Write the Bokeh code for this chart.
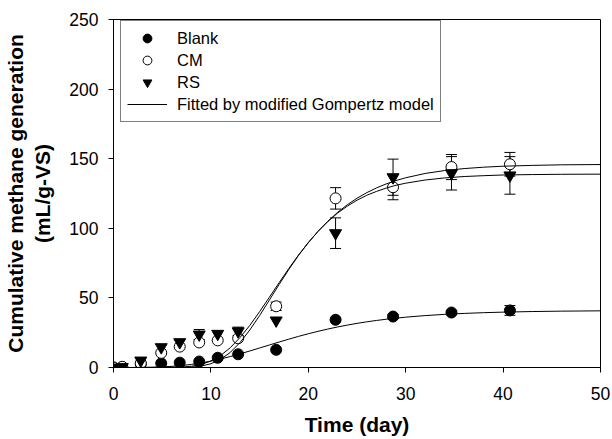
from bokeh.plotting import figure
from bokeh.models import Range1d, Legend, LegendItem, Whisker, ColumnDataSource, TeeHead, FixedTicker
from bokeh.embed import file_html
from bokeh.resources import INLINE

# ---- data ----
days = [0, 0.9, 2.8, 4.9, 6.8, 8.8, 10.7, 12.8, 16.7, 22.8, 28.7, 34.7, 40.7]
blank = [0, 0.3, 2.5, 3.0, 3.5, 4.3, 7.0, 9.5, 12.7, 34.3, 36.6, 39.5, 41.0]
blank_err = [0, 0, 0, 0, 0, 0, 0, 0, 0, 1.0, 1.5, 1.5, 3.5]
cm = [0, 0.5, 3.0, 10.5, 15.0, 18.0, 19.5, 21.0, 44.0, 121.5, 129.5, 144.0, 146.0]
cm_err = [0, 0, 0, 0, 0, 0, 0, 0, 3.0, 7.7, 9.0, 9.0, 8.5]
rs = [0, 0.3, 5.0, 14.6, 18.2, 23.7, 24.2, 26.0, 33.8, 96.5, 136.7, 139.5, 138.0]
rs_err = [0, 0, 0, 0, 0, 3.6, 0, 3.0, 0, 11.0, 13.0, 12.0, 13.5]

fit_t = [0, 2, 4, 5, 6, 7, 8, 9, 10, 11, 12, 13, 14, 15, 16, 17, 18, 19, 20,
         21, 22, 23, 24, 25, 26, 27, 28, 29, 30, 32, 34, 36, 38, 40, 43, 46, 50]
fit_blank = [0.0, 0.04, 0.23, 0.46, 0.84, 1.41, 2.21, 3.26, 4.57, 6.12, 7.88, 9.82,
             11.88, 14.01, 16.16, 18.29, 20.36, 22.36, 24.24, 25.99, 27.62, 29.11,
             30.46, 31.70, 32.80, 33.79, 34.67, 35.45, 36.15, 37.29, 38.18, 38.86,
             39.38, 39.78, 40.2, 40.48, 40.71]
fit_cm = [0.0, 0.0, 0.0, 0.02, 0.08, 0.3, 0.9, 2.2, 4.7, 8.6, 14.3, 21.6, 30.3, 40.1,
          50.4, 60.9, 71.1, 80.8, 89.7, 97.8, 105.0, 111.4, 116.9, 121.6, 125.6,
          129.0, 131.9, 134.3, 136.3, 139.4, 141.5, 142.9, 143.9, 144.6, 145.2,
          145.6, 145.8]
fit_rs = [0.0, 0.0, 0.0, 0.0, 0.01, 0.07, 0.3, 1.0, 2.7, 5.8, 10.9, 18.0, 27.0, 37.3,
          48.4, 59.6, 70.4, 80.6, 89.7, 97.8, 104.8, 110.9, 115.9, 120.2, 123.7,
          126.5, 128.9, 130.9, 132.4, 134.7, 136.2, 137.2, 137.8, 138.3, 138.6,
          138.8, 138.9]

x_ticks = [0, 10, 20, 30, 40, 50]
y_ticks = [0, 50, 100, 150, 200, 250]

FONT = "Liberation Sans"

p = figure(width=612, height=439, output_backend="svg", toolbar_location=None,
           x_range=Range1d(0, 50), y_range=Range1d(0, 250),
           min_border_left=113, min_border_right=12, min_border_top=19,
           min_border_bottom=72)
p.background_fill_color = "white"
p.border_fill_color = "white"
p.grid.visible = False
p.outline_line_color = "black"
p.outline_line_width = 1

for ax in (p.xaxis[0], p.yaxis[0]):
    ax.axis_line_color = "black"
    ax.major_tick_line_color = "black"
    ax.minor_tick_line_color = None
    ax.major_tick_in = 0
    ax.major_tick_out = 5
    ax.major_label_text_font = FONT
    ax.major_label_text_font_size = "17.5px"
    ax.major_label_text_color = "black"
    ax.axis_label_text_font = FONT
    ax.axis_label_text_font_style = "bold"
    ax.axis_label_text_font_size = "21px"
    ax.axis_label_text_color = "black"

p.xaxis.ticker = FixedTicker(ticks=x_ticks)
p.yaxis.ticker = FixedTicker(ticks=y_ticks)
p.xaxis.axis_label = "Time (day)"
p.yaxis.axis_label = "Cumulative methane generation\n(mL/g-VS)"
p.xaxis.major_label_standoff = 14
p.yaxis.major_label_standoff = 10
p.xaxis.axis_label_standoff = 10
p.yaxis.axis_label_standoff = 12


def add_err(vals, errs):
    xs = [d for d, e in zip(days, errs) if e > 0]
    ys = [v for v, e in zip(vals, errs) if e > 0]
    es = [e for e in errs if e > 0]
    src = ColumnDataSource(dict(x=xs, lo=[y - e for y, e in zip(ys, es)],
                                hi=[y + e for y, e in zip(ys, es)]))
    w = Whisker(base="x", lower="lo", upper="hi", source=src, level="underlay",
                line_color="black", line_width=1,
                upper_head=TeeHead(size=11, line_color="black", line_width=1),
                lower_head=TeeHead(size=11, line_color="black", line_width=1))
    p.add_layout(w)


add_err(blank, blank_err)
add_err(cm, cm_err)
add_err(rs, rs_err)

r_blank = p.scatter(days, blank, marker="circle", size=11, fill_color="black",
                    line_color="black")
r_cm = p.scatter(days, cm, marker="circle", size=11, fill_color="white",
                 line_color="black", line_width=1)
r_rs = p.scatter(days, rs, marker="inverted_triangle", size=12, fill_color="black",
                 line_color="black")

r_fit = p.line(fit_t, fit_blank, line_color="black", line_width=1)
p.line(fit_t, fit_cm, line_color="black", line_width=1)
p.line(fit_t, fit_rs, line_color="black", line_width=1)

legend = Legend(items=[
    LegendItem(label="Blank", renderers=[r_blank]),
    LegendItem(label="CM", renderers=[r_cm]),
    LegendItem(label="RS", renderers=[r_rs]),
    LegendItem(label="Fitted by modified Gompertz model", renderers=[r_fit]),
], location=(7, 245))
legend.glyph_width = 40
legend.glyph_height = 22
legend.label_height = 22
legend.spacing = 0
legend.padding = 6
legend.margin = 0
legend.label_standoff = 10
legend.label_text_font = FONT
legend.label_text_font_size = "16.5px"
legend.label_text_color = "black"
legend.border_line_color = "black"
legend.border_line_width = 1
legend.background_fill_alpha = 1
p.add_layout(legend)

open("out.html", "w").write(file_html(p, INLINE))
